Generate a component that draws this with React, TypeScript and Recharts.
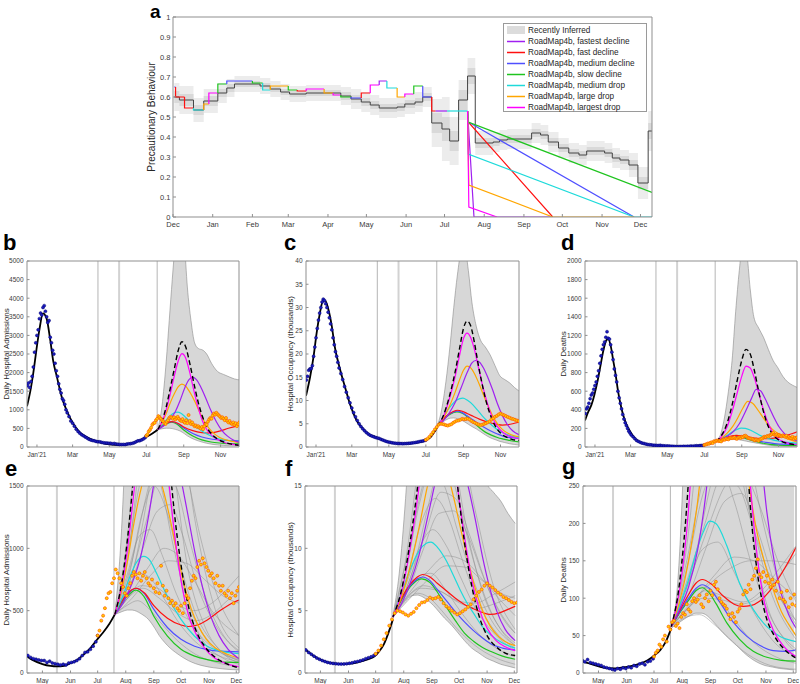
import React from 'react';
import { ComposedChart, Line, Area, Scatter, XAxis, YAxis, ReferenceLine } from 'recharts';

const FONT = "'Liberation Sans', Arial, Helvetica, sans-serif";
const AXIS_GRAY = '#8f8f8f';
const TICK_TEXT = '#3a3a3a';

// ---------------- shared scenario definitions ----------------
const scenarioNames = [
  'RoadMap4b, fastest decline',
  'RoadMap4b, fast decline',
  'RoadMap4b, medium decline',
  'RoadMap4b, slow decline',
  'RoadMap4b, medium drop',
  'RoadMap4b, large drop',
  'RoadMap4b, largest drop',
];
const scenarioColors = ['#A020F0', '#FF1010', '#4F4FFF', '#1FC41F', '#1EDADA', '#FFA600', '#FF00FF'];
const drawOrder = [3, 2, 1, 4, 5, 0, 6];

// ---------------- panel a ----------------
const aMonthDays = [0, 31, 62, 90, 121, 151, 182, 212, 243, 274, 304, 335, 365];
const aMonthLabels = ['Dec', 'Jan', 'Feb', 'Mar', 'Apr', 'May', 'Jun', 'Jul', 'Aug', 'Sep', 'Oct', 'Nov', 'Dec'];
const aYTicks = [0, 0.1, 0.2, 0.3, 0.4, 0.5, 0.6, 0.7, 0.8, 0.9, 1];
const aEndDay = 374;

const aInfDays = [1, 5, 16, 24, 35, 42, 48, 68, 76, 84, 91, 104, 131, 139, 147, 154, 161, 175, 181, 189, 195, 202, 210, 216, 223, 230, 236, 250, 255, 261, 280, 287, 293, 301, 309, 317, 323, 337, 343, 349, 356, 363, 371];
const aInfValues = [0.6, 0.585, 0.535, 0.58, 0.62, 0.645, 0.665, 0.655, 0.64, 0.625, 0.615, 0.62, 0.605, 0.59, 0.575, 0.56, 0.545, 0.55, 0.565, 0.575, 0.6, 0.47, 0.44, 0.38, 0.585, 0.705, 0.37, 0.375, 0.385, 0.39, 0.42, 0.41, 0.375, 0.345, 0.32, 0.31, 0.33, 0.32, 0.295, 0.285, 0.26, 0.17, 0.43];
const aInfOuter = [0.07, 0.07, 0.06, 0.06, 0.05, 0.045, 0.04, 0.04, 0.04, 0.04, 0.04, 0.04, 0.045, 0.05, 0.05, 0.05, 0.05, 0.05, 0.05, 0.05, 0.05, 0.12, 0.16, 0.12, 0.1, 0.09, 0.06, 0.05, 0.05, 0.05, 0.05, 0.05, 0.05, 0.05, 0.05, 0.05, 0.05, 0.05, 0.05, 0.05, 0.06, 0.08, 0.1];
const aInfInner = [0.03, 0.03, 0.025, 0.025, 0.02, 0.02, 0.015, 0.015, 0.015, 0.015, 0.015, 0.015, 0.02, 0.02, 0.02, 0.02, 0.02, 0.02, 0.02, 0.02, 0.02, 0.05, 0.06, 0.05, 0.05, 0.04, 0.025, 0.02, 0.02, 0.02, 0.02, 0.02, 0.02, 0.02, 0.02, 0.02, 0.02, 0.02, 0.02, 0.02, 0.025, 0.03, 0.04];

const aStepDays = [1, 2, 9, 16, 24, 28, 35, 42, 62, 70, 76, 90, 97, 104, 118, 125, 131, 139, 147, 154, 161, 167, 175, 181, 188, 195, 202, 205, 214];
const aStepValues = [0.65, 0.6, 0.545, 0.535, 0.565, 0.62, 0.665, 0.68, 0.67, 0.635, 0.655, 0.635, 0.63, 0.64, 0.62, 0.61, 0.6, 0.595, 0.62, 0.66, 0.68, 0.645, 0.6, 0.615, 0.655, 0.6, 0.53, 0.53, 0.53];
const aStepScenario = [2, 1, 1, 4, 5, 6, 3, 2, 3, 4, 5, 3, 1, 6, 5, 6, 3, 2, 1, 6, 0, 4, 5, 6, 3, 2, 1, 0, 4];
const aStepEnd = 230;

const aFastestDecline = [[230, 0.53], [230.5, 0.475], [235, 0], [296.5, 0]];
const aFastDecline = [[230, 0.53], [230.5, 0.475], [296.5, 0]];
const aMediumDecline = [[230, 0.53], [230.5, 0.475], [360, 0]];
const aSlowDecline = [[230, 0.53], [230.5, 0.475], [374, 0.123]];
const aMediumDrop = [[230, 0.53], [230.5, 0.315], [360, 0], [374, 0]];
const aLargeDrop = [[230, 0.53], [231, 0.16], [296.5, 0], [360, 0]];
const aLargestDrop = [[230, 0.53], [231, 0.05], [253, 0]];
const aScenarioPaths = [aFastestDecline, aFastDecline, aMediumDecline, aSlowDecline, aMediumDrop, aLargeDrop, aLargestDrop];

// ---------------- panels b-g : axes ----------------
const topTickDays = [31, 90, 151, 212, 274, 335];
const topTickLabels = ["Jan'21", 'Mar', 'May', 'Jul', 'Sep', 'Nov'];
const botTickDays = [151, 182, 212, 243, 274, 304, 335, 365];
const botTickLabels = ['May', 'Jun', 'Jul', 'Aug', 'Sep', 'Oct', 'Nov', 'Dec'];
const stepChangeDays = [132, 167, 230];

// ---------------- admissions ----------------
const admObsBlue = [[15,1650],[17,1720],[19,1600],[21,1760],[23,1900],[25,2150],[27,2550],[29,2800],[31,3000],[33,3150],[35,3450],[37,3600],[39,3550],[41,3750],[43,3800],[45,3650],[47,3500],[49,3350],[51,3400],[53,2950],[55,2800],[57,2600],[59,2500],[61,2250],[63,2050],[65,1900],[67,1700],[69,1550],[71,1450],[73,1300],[75,1250],[77,1150],[79,1000],[81,920],[84,820],[87,700],[90,640],[93,560],[96,480],[99,420],[102,370],[105,330],[108,300],[111,270],[114,240],[117,210],[120,190],[123,175],[126,165],[129,150],[132,140],[135,140],[138,125],[141,115],[144,110],[147,105],[150,100],[153,100],[156,85],[159,95],[162,80],[165,75],[168,70],[171,65],[174,70],[177,65],[180,80],[183,85],[186,90],[189,100],[192,115],[195,140],[198,165],[201,170],[204,190],[207,215],[210,250],[212,300]];
const admObsOrange = [[212,300],[214,340],[216,420],[218,460],[220,520],[222,600],[224,640],[226,650],[228,720],[230,760],[232,830],[234,800],[236,760],[238,720],[240,690],[242,640],[244,620],[246,680],[248,720],[250,780],[252,810],[254,790],[256,760],[258,800],[260,740],[262,780],[264,810],[266,760],[268,720],[270,700],[272,750],[274,680],[276,650],[278,720],[280,640],[282,860],[284,700],[286,620],[288,660],[290,600],[292,560],[294,580],[296,540],[298,560],[300,520],[302,500],[304,540],[306,480],[308,560],[310,620],[312,600],[314,680],[316,740],[318,780],[320,760],[322,850],[324,900],[326,870],[328,920],[330,880],[332,850],[334,820],[336,780],[338,800],[340,760],[342,720],[344,780],[346,700],[348,660],[350,700],[352,640],[354,620],[356,660],[358,600],[360,640],[362,560],[364,620],[366,660],[368,690]];
const admFit = [[14.5,1094],[20,1500],[25,2000],[30,2600],[35,3150],[41,3590],[47,3450],[53,2870],[58,2300],[64,1884],[72,1345],[80,987],[91,628],[100,430],[108,314],[120,210],[130,155],[140,105],[151,72],[160,57],[167,53],[175,58],[182,78],[190,108],[196,145],[204,200],[211,265],[218,325],[225,395],[231,470]];
const admBand = [[231,470,480],[238,490,1100],[245,505,2300],[250,505,3400],[255,495,4500],[260,475,5500],[268,430,6500],[275,360,5500],[280,300,4300],[286,245,3400],[292,200,2800],[298,165,2650],[306,125,2600],[312,100,2500],[320,75,2250],[330,55,2030],[340,42,1950],[350,33,1880],[358,28,1830],[368,25,1800]];
const admFastestDecline = [[231,470],[240,560],[250,720],[260,950],[268,1250],[276,1600],[283,1820],[289,1870],[295,1810],[302,1620],[310,1330],[319,980],[328,680],[337,450],[346,300],[356,190],[368,115]];
const admFastDecline = [[231,470],[244,630],[254,680],[264,640],[274,540],[289,440],[304,385],[312,373],[322,385],[333,425],[348,505],[363,570],[368,585]];
const admMediumDecline = [[231,470],[244,620],[254,680],[263,640],[274,510],[289,365],[304,270],[319,215],[333,188],[348,175],[368,170]];
const admSlowDecline = [[231,470],[244,610],[254,665],[263,615],[274,455],[289,295],[304,190],[319,135],[333,107],[348,90],[368,85]];
const admMediumDrop = [[231,470],[240,620],[248,780],[255,890],[263,935],[270,900],[277,800],[289,615],[304,430],[319,295],[333,215],[348,175],[368,155]];
const admLargeDrop = [[231,470],[238,650],[245,900],[252,1200],[259,1450],[265,1620],[271,1690],[278,1620],[285,1450],[293,1200],[300,950],[307,720],[315,520],[323,380],[332,270],[342,200],[355,150],[368,120]];
const admLargestDrop = [[231,470],[238,680],[245,1000],[252,1450],[259,1950],[265,2320],[271,2510],[277,2400],[284,2000],[291,1500],[298,1050],[305,700],[312,470],[320,320],[330,200],[341,120],[354,75],[368,50]];
const admNoChange = [[231,470],[238,700],[245,1080],[252,1600],[259,2150],[265,2600],[271,2830],[277,2700],[284,2250],[291,1700],[298,1200],[305,820],[312,540],[320,350],[330,215],[341,130],[354,75],[368,42]];
const admEnsemble = [
  [[231,470],[245,545],[256,580],[268,520],[282,400],[300,260],[320,150],[345,80],[368,50]],
  [[231,470],[245,680],[258,800],[270,760],[285,600],[300,420],[320,250],[345,140],[368,90]],
  [[231,470],[245,800],[258,1100],[270,1150],[283,950],[298,650],[315,400],[340,200],[368,110]],
  [[231,470],[245,950],[258,1500],[270,1750],[282,1500],[296,1000],[312,560],[335,250],[368,100]],
  [[231,470],[245,1100],[256,2000],[268,2700],[280,2300],[292,1400],[305,700],[325,300],[350,120],[368,70]],
  [[231,470],[248,700],[262,1000],[278,1300],[292,1350],[306,1100],[322,700],[345,350],[368,180]],
  [[231,470],[250,650],[268,850],[285,1000],[300,950],[318,750],[338,500],[368,300]],
  [[231,470],[248,620],[262,680],[280,600],[300,480],[320,420],[340,480],[355,580],[368,650]],
  [[231,470],[245,900],[255,1500],[265,2200],[275,2600],[285,2300],[297,1600],[310,900],[330,380],[350,160],[368,80]],
  [[231,470],[250,900],[265,1400],[280,1800],[295,1900],[310,1600],[325,1100],[345,600],[368,300]],
  [[231,470],[246,760],[260,1250],[274,1500],[288,1300],[302,900],[320,480],[345,200],[368,100]],
  [[231,470],[250,600],[270,780],[290,900],[310,880],[330,750],[350,620],[368,560]],
  [[231,470],[248,750],[265,1200],[282,1600],[298,1500],[314,1050],[334,550],[355,260],[368,170]],
  [[231,470],[245,600],[260,700],[278,680],[298,560],[318,500],[338,560],[358,700],[368,780]],
  [[231,470],[252,850],[272,1600],[290,2200],[305,1900],[320,1200],[340,550],[368,200]],
];

// ---------------- occupancy (thousands) ----------------
const occObsBlue = [[15,14.4],[17,15.2],[19,16.5],[21,16.8],[23,16.9],[25,17.5],[27,19.5],[29,21.5],[31,23.5],[33,25.5],[35,27.3],[37,28.8],[39,30],[41,31.2],[43,31.8],[45,31.5],[47,30.8],[49,30],[51,29],[53,27.8],[55,26.5],[57,25.2],[59,23.5],[61,22],[63,20.5],[65,19.5],[67,18.2],[69,17],[72,15.8],[75,14.5],[78,13],[81,11.8],[84,10.6],[87,9.5],[90,8.4],[93,7.4],[96,6.5],[99,5.7],[102,5],[105,4.4],[108,3.9],[111,3.5],[114,3.1],[117,2.8],[120,2.55],[123,2.35],[126,2.2],[129,2.05],[132,1.95],[135,1.85],[138,1.65],[141,1.5],[144,1.35],[147,1.2],[150,1.1],[153,1.0],[156,0.92],[159,0.85],[162,0.8],[165,0.77],[168,0.75],[171,0.73],[174,0.72],[177,0.73],[180,0.75],[183,0.78],[186,0.82],[189,0.88],[192,0.92],[195,0.98],[198,1.05],[201,1.15],[204,1.22],[207,1.3],[210,1.4],[212,1.5]];
const occObsOrange = [[212,1.55],[215,1.8],[218,2.2],[221,2.7],[224,3.2],[227,3.8],[230,4.3],[233,4.8],[236,5.0],[239,4.95],[242,4.85],[245,4.7],[248,4.6],[251,4.75],[254,4.9],[257,5.2],[260,5.45],[263,5.65],[266,5.7],[269,5.85],[272,6.05],[275,5.95],[278,6.0],[281,6.1],[284,5.9],[287,5.6],[290,5.35],[293,5.2],[296,5.0],[299,4.85],[302,4.7],[305,4.8],[308,4.95],[311,5.1],[314,5.3],[317,5.5],[320,5.9],[323,6.2],[326,6.5],[329,6.7],[332,7.0],[335,7.2],[338,7.0],[341,6.85],[344,6.65],[347,6.45],[350,6.3],[353,6.1],[356,6.0],[359,5.85],[362,5.7],[365,5.6],[368,5.65]];
const occFit = [[14.5,11],[21,14.9],[27,19.5],[32,24.5],[37,28.5],[42,31.3],[46,31.5],[51,29.8],[57,26],[62,21.5],[70,17],[79,12.8],[87,9.2],[98,5.7],[110,3.7],[120,2.6],[128,2.2],[135,1.85],[143,1.4],[151,1.07],[160,0.85],[168,0.75],[176,0.72],[183,0.75],[190,0.82],[196,0.93],[204,1.1],[211,1.35],[216,1.75],[221,2.3],[226,3.2],[231,4.3]];
const occBand = [[231,4.4,4.6],[238,5.2,8],[245,5.8,14],[252,6.2,22],[258,6.25,30],[264,6.1,37],[270,5.8,42],[276,5.4,43],[282,4.9,38],[288,4.4,31],[295,3.9,26],[302,3.3,23],[310,2.6,21.5],[318,2.0,19.8],[326,1.6,17.5],[334,1.2,15.3],[342,0.95,14.5],[350,0.7,13.8],[358,0.55,12.8],[366,0.4,12.0]];
const occFastestDecline = [[231,4.5],[240,5.5],[250,7.2],[260,9.5],[270,12.7],[280,16],[288,18.1],[294,18.6],[300,18.3],[307,17],[314,15],[322,12.3],[330,9.3],[338,6.8],[346,4.9],[355,3.5],[366,2.6]];
const occFastDecline = [[231,4.5],[240,5.9],[250,7.1],[258,7.7],[264,7.9],[272,7.7],[280,7.2],[290,6.6],[300,6],[310,5.5],[320,5.15],[330,4.85],[338,4.7],[348,4.8],[358,5.1],[366,5.35]];
const occMediumDecline = [[231,4.5],[240,5.9],[250,7],[258,7.55],[264,7.7],[272,7.4],[280,6.7],[290,5.8],[300,4.9],[310,4.1],[320,3.4],[330,2.8],[340,2.3],[352,2.0],[366,1.85]];
const occSlowDecline = [[231,4.5],[240,5.8],[250,6.9],[258,7.45],[263,7.55],[272,7.25],[280,6.5],[290,5.3],[300,4.2],[310,3.2],[320,2.55],[330,2.05],[340,1.7],[352,1.35],[366,1.1]];
const occMediumDrop = [[231,4.5],[240,6.3],[250,8.3],[260,9.8],[268,10.4],[273,10.5],[280,10.1],[290,9.0],[298,7.8],[305,6.7],[313,5.6],[320,4.8],[330,3.7],[340,3],[352,2.4],[366,2.0]];
const occLargeDrop = [[231,4.5],[240,6],[250,8.5],[260,11.7],[268,14.6],[274,16.5],[280,17.4],[286,17],[292,15.8],[299,13.8],[306,11.5],[313,9.3],[321,7],[329,5.2],[338,3.8],[348,2.9],[358,2.4],[366,2.2]];
const occLargestDrop = [[231,4.5],[240,6.3],[250,10],[260,15],[268,20],[274,23.3],[280,24.5],[286,23.5],[292,21],[298,17.5],[304,14],[311,10.5],[318,7.5],[326,5.2],[335,3.6],[345,2.6],[355,2.1],[366,1.8]];
const occNoChange = [[231,4.5],[240,6.5],[250,10.5],[260,16],[268,21.5],[274,25.5],[280,27.1],[286,26],[292,22.5],[298,18],[304,14],[310,10.5],[318,7],[326,4.6],[335,3.0],[345,2.1],[355,1.6],[366,1.4]];
const occEnsemble = [
  [[231,4.5],[245,5.7],[258,6.4],[270,6.1],[285,5.0],[300,3.7],[320,2.3],[345,1.2],[366,0.7]],
  [[231,4.5],[245,6.3],[260,7.8],[273,8.0],[288,6.8],[305,5.0],[325,3.2],[345,2.0],[366,1.3]],
  [[231,4.5],[245,7.0],[260,10],[275,11.5],[290,10.2],[305,7.8],[322,5.2],[345,3.0],[366,1.8]],
  [[231,4.5],[245,8],[260,13.5],[274,16.5],[288,15],[302,11.5],[318,7.8],[340,4.2],[366,2.2]],
  [[231,4.5],[245,9],[258,16],[270,22],[282,23.5],[295,19],[310,12.5],[330,6.5],[350,3.5],[366,2.2]],
  [[231,4.5],[250,7],[265,10],[282,12.8],[298,13],[314,11],[332,7.5],[350,4.8],[366,3.2]],
  [[231,4.5],[250,6.5],[270,8.2],[290,9.4],[310,9.0],[330,7.5],[350,5.8],[366,4.6]],
  [[231,4.5],[248,6.2],[265,7.0],[285,6.5],[305,5.6],[325,5.2],[345,5.6],[366,6.2]],
  [[231,4.5],[247,9.5],[262,14.5],[278,18.5],[292,17],[306,13],[322,8.5],[342,4.5],[366,2.4]],
  [[231,4.5],[246,7.5],[262,12],[278,14],[292,12.5],[308,9],[326,5.5],[348,3],[366,2]],
  [[231,4.5],[250,6],[270,7.5],[290,8.6],[310,8.5],[330,7.4],[350,6.4],[366,6]],
  [[231,4.5],[248,7.2],[266,11],[284,14.5],[300,14],[316,11],[336,6.8],[356,4],[366,3.2]],
  [[231,4.5],[245,5.9],[262,6.8],[282,6.6],[302,5.8],[322,5.6],[342,6.3],[366,7.3]],
  [[231,4.5],[252,8],[272,14],[290,19],[306,18],[322,13],[342,7],[366,3.5]],
];

// ---------------- deaths ----------------
const detObsBlue = [[15,360],[17,410],[19,430],[21,470],[23,520],[25,560],[27,580],[29,620],[31,660],[33,700],[35,760],[37,820],[39,900],[41,980],[43,1050],[45,1100],[47,1130],[49,1180],[51,1240],[53,1170],[55,1160],[57,1100],[59,1020],[61,940],[63,840],[65,770],[67,700],[69,600],[71,530],[73,470],[75,410],[77,350],[79,300],[81,260],[83,230],[85,200],[87,170],[89,150],[91,130],[94,110],[97,90],[100,70],[103,60],[106,50],[109,42],[112,38],[115,33],[118,28],[121,25],[124,23],[127,20],[130,18],[133,17],[136,15],[139,18],[142,14],[145,13],[148,12],[151,11],[154,10],[157,8],[160,7],[163,6],[166,5],[169,4],[172,6],[175,5],[178,7],[181,6],[184,8],[187,7],[190,10],[193,9],[196,12],[199,13],[202,11],[205,15],[208,16],[211,19]];
const detObsOrange = [[212,22],[214,27],[216,30],[218,38],[220,35],[222,45],[224,50],[226,42],[228,62],[230,58],[232,68],[234,70],[236,63],[238,66],[240,60],[242,75],[244,80],[246,78],[248,92],[250,85],[252,82],[254,96],[256,100],[258,95],[260,98],[262,104],[264,92],[266,88],[268,100],[270,105],[272,96],[274,110],[276,104],[278,118],[280,122],[282,112],[284,100],[286,95],[288,92],[290,90],[292,86],[294,78],[296,72],[298,80],[300,75],[302,68],[304,82],[306,86],[308,92],[310,105],[312,110],[314,108],[316,118],[318,112],[320,125],[322,130],[324,140],[326,152],[328,132],[330,128],[332,135],[334,122],[336,130],[338,120],[340,115],[342,125],[344,118],[346,110],[348,122],[350,100],[352,108],[354,98],[356,95],[358,110],[360,88],[362,100],[364,92],[366,105],[368,90]];
const detFit = [[14.5,286],[20,380],[25,450],[30,560],[35,700],[40,870],[45,1040],[50,1150],[53,1160],[57,1090],[61,940],[65,790],[69,610],[73,470],[77,360],[82,260],[88,180],[95,110],[104,58],[115,32],[126,20],[140,13],[154,8],[168,6],[181,8],[195,12],[205,17],[213,24],[219,31],[225,42],[231,60]];
const detBand = [[231,60,65],[238,66,120],[245,72,300],[252,77,600],[258,80,930],[264,80,1460],[270,77,1900],[276,70,2200],[282,62,2100],[288,54,1700],[294,47,1400],[302,38,1280],[310,28,1180],[318,20,1050],[326,14,930],[334,10,850],[342,8,760],[350,6,700],[358,5,665],[366,4,640]];
const detFastestDecline = [[231,62],[240,85],[250,115],[260,165],[270,250],[280,380],[290,520],[298,620],[305,605],[312,530],[320,420],[328,310],[336,215],[344,150],[352,105],[360,78],[368,60]];
const detFastDecline = [[231,62],[240,83],[250,105],[258,120],[265,125],[275,119],[288,103],[300,92],[310,89],[318,90],[328,96],[338,108],[348,125],[358,145],[368,168]];
const detMediumDecline = [[231,62],[240,81],[250,100],[258,113],[265,118],[273,113],[284,95],[299,68],[314,49],[328,37],[343,30],[356,29],[368,31]];
const detSlowDecline = [[231,62],[240,80],[250,97],[258,110],[265,114],[272,108],[280,93],[292,67],[306,45],[321,29],[336,21],[352,17],[368,16]];
const detMediumDrop = [[231,62],[240,90],[250,125],[258,160],[266,188],[273,203],[280,200],[292,170],[306,120],[321,85],[336,62],[350,49],[368,42]];
const detLargeDrop = [[231,62],[240,95],[250,150],[260,230],[268,320],[276,420],[284,490],[292,470],[300,405],[308,330],[316,255],[324,195],[333,150],[342,115],[352,82],[360,65],[368,50]];
const detLargestDrop = [[231,62],[240,110],[250,220],[258,380],[266,570],[274,760],[281,870],[288,850],[295,740],[302,580],[310,400],[318,250],[326,150],[334,90],[344,55],[355,35],[368,22]];
const detNoChange = [[231,62],[240,120],[250,260],[258,450],[266,700],[274,930],[281,1050],[288,1000],[295,820],[302,600],[310,380],[318,220],[326,130],[334,80],[344,50],[355,32],[368,20]];
const detEnsemble = [
  [[231,62],[248,75],[262,78],[278,65],[295,45],[315,25],[340,10],[368,5]],
  [[231,62],[248,95],[264,115],[280,105],[298,75],[318,45],[345,22],[368,13]],
  [[231,62],[248,115],[265,165],[282,175],[300,135],[320,85],[345,40],[368,22]],
  [[231,62],[248,140],[266,240],[283,280],[300,230],[318,150],[340,75],[368,32]],
  [[231,62],[248,170],[264,350],[280,480],[296,420],[312,260],[332,110],[355,45],[368,28]],
  [[231,62],[252,110],[270,170],[290,230],[308,240],[326,190],[346,115],[368,65]],
  [[231,62],[255,95],[278,130],[300,155],[322,150],[345,125],[368,100]],
  [[231,62],[250,90],[268,110],[290,102],[310,95],[330,110],[350,140],[368,170]],
  [[231,62],[250,130],[268,200],[286,260],[304,250],[322,190],[342,120],[368,70]],
  [[231,62],[248,150],[266,260],[284,330],[300,300],[318,210],[340,110],[368,45]],
  [[231,62],[252,90],[274,120],[296,140],[318,150],[340,150],[368,145]],
  [[231,62],[250,120],[270,190],[290,250],[308,270],[326,230],[348,150],[368,95]],
  [[231,62],[248,85],[266,100],[286,98],[306,92],[326,100],[346,125],[368,160]],
  [[231,62],[254,140],[276,260],[296,340],[314,300],[332,200],[352,110],[368,70]],
];

// ---------------- helpers ----------------
const pts = (arr) => arr.map(([d, v]) => ({ d, v }));
const tickStyle = (fs) => ({ fontSize: fs, fill: TICK_TEXT, fontFamily: FONT });

const BlueDot = (p) => (p.cx == null ? null : <circle cx={p.cx} cy={p.cy} r={1.5} fill="#1c1cc0" stroke="#00006e" strokeWidth={0.5} />);
const OrangeDot = (p) => (p.cx == null ? null : <circle cx={p.cx} cy={p.cy} r={1.5} fill="#FFD000" stroke="#FF5a00" strokeWidth={0.7} />);

function SeriesPanel({ rect, xDomain, xTicks, xLabels, yDomain, yTicks, band, fit, noChange, scenarios, blue, orange, ensemble }) {
  const YW = 26, MT = 4, MR = 4, XH = 16;
  const W = rect.w + YW + MR;
  const H = rect.h + MT + XH;
  const bandRows = band.map(([d, lo, hi]) => ({ d, r: [lo, hi] }));
  return (
    <div style={{ position: 'absolute', left: rect.x - YW, top: rect.y - MT, width: W, height: H }}>
      <ComposedChart width={W} height={H} data={bandRows} margin={{ top: MT, right: MR, bottom: 0, left: 0 }}>
        <XAxis type="number" dataKey="d" domain={xDomain} ticks={xTicks} interval={0} allowDataOverflow height={XH}
          tickFormatter={(t) => xLabels[xTicks.indexOf(t)]} tick={tickStyle(6.5)} stroke={AXIS_GRAY}
          tickSize={-2.5} tickMargin={7.5} />
        <YAxis type="number" domain={yDomain} ticks={yTicks} interval={0} allowDataOverflow width={YW}
          tick={tickStyle(6.5)} stroke={AXIS_GRAY} tickSize={-2.5} tickMargin={6} />
        <Area dataKey="r" type="monotone" fill="#d7d7d7" fillOpacity={1} stroke="#8a8a8a" strokeWidth={0.6} isAnimationActive={false} />
        {ensemble && ensemble.map((e, i) => (
          <Line key={'en' + i} data={pts(e)} dataKey="v" type="monotone" stroke="#8e8e8e" strokeWidth={0.5} dot={false} activeDot={false} isAnimationActive={false} />
        ))}
        <ReferenceLine x={stepChangeDays[0]} stroke="#b5b5b5" strokeWidth={1} />
        <ReferenceLine x={stepChangeDays[1]} stroke="#d2d2d2" strokeWidth={2} />
        <ReferenceLine x={stepChangeDays[2]} stroke="#b5b5b5" strokeWidth={1} />
        <Line data={pts(fit)} dataKey="v" type="monotone" stroke="#000" strokeWidth={1.8} dot={false} activeDot={false} isAnimationActive={false} />
        <Scatter data={pts(blue)} dataKey="v" shape={BlueDot} isAnimationActive={false} />
        {drawOrder.map((k) => (
          <Line key={'sc' + k} data={pts(scenarios[k])} dataKey="v" type="monotone" stroke={scenarioColors[k]} strokeWidth={1.2} dot={false} activeDot={false} isAnimationActive={false} />
        ))}
        <Line data={pts(noChange)} dataKey="v" type="monotone" stroke="#000" strokeWidth={1.4} strokeDasharray="5 3" dot={false} activeDot={false} isAnimationActive={false} />
        <Scatter data={pts(orange)} dataKey="v" shape={OrangeDot} isAnimationActive={false} />
        <ReferenceLine y={yDomain[1]} stroke={AXIS_GRAY} strokeWidth={1} />
        <ReferenceLine x={xDomain[1]} stroke={AXIS_GRAY} strokeWidth={1} />
      </ComposedChart>
    </div>
  );
}

function PanelA() {
  const rect = { x: 173, y: 17, w: 479, h: 200 };
  const YW = 24, MT = 4, MR = 4, XH = 16;
  const W = rect.w + YW + MR;
  const H = rect.h + MT + XH;
  const rows = aInfDays.map((d, i) => ({
    d,
    v: aInfValues[i],
    outer: [aInfValues[i] - aInfOuter[i], aInfValues[i] + aInfOuter[i]],
    inner: [aInfValues[i] - aInfInner[i], aInfValues[i] + aInfInner[i]],
  }));
  const last = rows[rows.length - 1];
  rows.push({ ...last, d: aEndDay });
  const segs = aStepDays.map((d, i) => {
    const end = i + 1 < aStepDays.length ? aStepDays[i + 1] : aStepEnd;
    const prev = i > 0 ? aStepValues[i - 1] : aStepValues[i];
    return { color: scenarioColors[aStepScenario[i]], data: [{ d, v: prev }, { d, v: aStepValues[i] }, { d: end, v: aStepValues[i] }] };
  });
  return (
    <div style={{ position: 'absolute', left: rect.x - YW, top: rect.y - MT, width: W, height: H }}>
      <ComposedChart width={W} height={H} data={rows} margin={{ top: MT, right: MR, bottom: 0, left: 0 }}>
        <XAxis type="number" dataKey="d" domain={[0, aEndDay]} ticks={aMonthDays} interval={0} allowDataOverflow height={XH}
          tickFormatter={(t) => aMonthLabels[aMonthDays.indexOf(t)]} tick={tickStyle(7.5)} stroke={AXIS_GRAY}
          tickSize={-3} tickMargin={8} />
        <YAxis type="number" domain={[0, 1]} ticks={aYTicks} interval={0} allowDataOverflow width={YW}
          tick={tickStyle(7.5)} stroke={AXIS_GRAY} tickSize={-3} tickMargin={5.5} />
        <Area dataKey="outer" type="stepAfter" fill="#ececec" fillOpacity={1} stroke="none" isAnimationActive={false} />
        <Area dataKey="inner" type="stepAfter" fill="#d9d9d9" fillOpacity={1} stroke="none" isAnimationActive={false} />
        <Line dataKey="v" type="stepAfter" stroke="#444" strokeWidth={1} dot={false} activeDot={false} isAnimationActive={false} />
        {segs.map((s, i) => (
          <Line key={'seg' + i} data={s.data} dataKey="v" type="linear" stroke={s.color} strokeWidth={1.2} dot={false} activeDot={false} isAnimationActive={false} />
        ))}
        {aScenarioPaths.map((p, k) => (
          <Line key={'path' + k} data={pts(p)} dataKey="v" type="linear" stroke={scenarioColors[k]} strokeWidth={1.2} dot={false} activeDot={false} isAnimationActive={false} />
        ))}
        <ReferenceLine y={1} stroke={AXIS_GRAY} strokeWidth={1} />
        <ReferenceLine x={aEndDay} stroke={AXIS_GRAY} strokeWidth={1} />
      </ComposedChart>
    </div>
  );
}

function LegendA() {
  const rowH = 11;
  return (
    <div style={{ position: 'absolute', left: 503, top: 23, width: 142, height: 87, background: '#fff', border: '1px solid #9a9a9a', fontFamily: FONT, fontSize: 8.2, color: '#262626' }}>
      <svg width={24} height={88} style={{ position: 'absolute', left: 0, top: 0 }}>
        <rect x={3} y={2} width={18} height={8} fill="#dcdcdc" />
        {scenarioNames.map((n, i) => (
          <line key={n} x1={3} x2={21} y1={1 + rowH * (i + 1) + rowH / 2} y2={1 + rowH * (i + 1) + rowH / 2} stroke={scenarioColors[i]} strokeWidth={1.5} />
        ))}
      </svg>
      <div style={{ position: 'absolute', left: 24, top: 1 }}>
        <div style={{ height: rowH, lineHeight: rowH + 'px', whiteSpace: 'nowrap' }}>Recently Inferred</div>
        {scenarioNames.map((n) => (
          <div key={n} style={{ height: rowH, lineHeight: rowH + 'px', whiteSpace: 'nowrap' }}>{n}</div>
        ))}
      </div>
    </div>
  );
}

const yTitles = [
  { text: 'Precautionary Behaviour', x: 151, y: 117, fs: 10 },
  { text: 'Daily Hospital Admissions', x: 6, y: 354, fs: 8 },
  { text: 'Hospital Occupancy (thousands)', x: 290, y: 354, fs: 8 },
  { text: 'Daily Deaths', x: 563, y: 354, fs: 8 },
  { text: 'Daily Hospital Admissions', x: 6, y: 580, fs: 8 },
  { text: 'Hospital Occupancy (thousands)', x: 290, y: 580, fs: 8 },
  { text: 'Daily Deaths', x: 563, y: 580, fs: 8 },
];
const panelLetters = [
  { t: 'a', x: 150, y: 17.5, fs: 19 },
  { t: 'b', x: 3, y: 250, fs: 22 },
  { t: 'c', x: 284, y: 250, fs: 22 },
  { t: 'd', x: 561, y: 250, fs: 22 },
  { t: 'e', x: 5, y: 476, fs: 22 },
  { t: 'f', x: 285, y: 476, fs: 22 },
  { t: 'g', x: 562, y: 474, fs: 22 },
];

export default function App() {
  return (
    <div style={{ position: 'absolute', left: 0, top: 0, width: 800, height: 684, background: '#fff', overflow: 'hidden', fontFamily: FONT }}>
      <PanelA />
      <LegendA />
      <SeriesPanel rect={{ x: 27, y: 261, w: 212, h: 186 }} xDomain={[14.5, 365.5]} xTicks={topTickDays} xLabels={topTickLabels}
        yDomain={[0, 5000]} yTicks={[0, 500, 1000, 1500, 2000, 2500, 3000, 3500, 4000, 4500, 5000]}
        band={admBand} fit={admFit} noChange={admNoChange}
        scenarios={[admFastestDecline, admFastDecline, admMediumDecline, admSlowDecline, admMediumDrop, admLargeDrop, admLargestDrop]}
        blue={admObsBlue} orange={admObsOrange} ensemble={null} />
      <SeriesPanel rect={{ x: 306, y: 261, w: 213, h: 186 }} xDomain={[14.5, 365.5]} xTicks={topTickDays} xLabels={topTickLabels}
        yDomain={[0, 40]} yTicks={[0, 5, 10, 15, 20, 25, 30, 35, 40]}
        band={occBand} fit={occFit} noChange={occNoChange}
        scenarios={[occFastestDecline, occFastDecline, occMediumDecline, occSlowDecline, occMediumDrop, occLargeDrop, occLargestDrop]}
        blue={occObsBlue} orange={occObsOrange} ensemble={null} />
      <SeriesPanel rect={{ x: 585, y: 261, w: 212, h: 186 }} xDomain={[14.5, 365.5]} xTicks={topTickDays} xLabels={topTickLabels}
        yDomain={[0, 2000]} yTicks={[0, 200, 400, 600, 800, 1000, 1200, 1400, 1600, 1800, 2000]}
        band={detBand} fit={detFit} noChange={detNoChange}
        scenarios={[detFastestDecline, detFastDecline, detMediumDecline, detSlowDecline, detMediumDrop, detLargeDrop, detLargestDrop]}
        blue={detObsBlue} orange={detObsOrange} ensemble={null} />
      <SeriesPanel rect={{ x: 27, y: 486, w: 212, h: 187 }} xDomain={[134, 368]} xTicks={botTickDays} xLabels={botTickLabels}
        yDomain={[0, 1500]} yTicks={[0, 500, 1000, 1500]}
        band={admBand} fit={admFit} noChange={admNoChange}
        scenarios={[admFastestDecline, admFastDecline, admMediumDecline, admSlowDecline, admMediumDrop, admLargeDrop, admLargestDrop]}
        blue={admObsBlue} orange={admObsOrange} ensemble={admEnsemble} />
      <SeriesPanel rect={{ x: 305, y: 486, w: 212, h: 187 }} xDomain={[134, 368]} xTicks={botTickDays} xLabels={botTickLabels}
        yDomain={[0, 15]} yTicks={[0, 5, 10, 15]}
        band={occBand} fit={occFit} noChange={occNoChange}
        scenarios={[occFastestDecline, occFastDecline, occMediumDecline, occSlowDecline, occMediumDrop, occLargeDrop, occLargestDrop]}
        blue={occObsBlue} orange={occObsOrange} ensemble={occEnsemble} />
      <SeriesPanel rect={{ x: 583, y: 486, w: 213, h: 187 }} xDomain={[134, 368]} xTicks={botTickDays} xLabels={botTickLabels}
        yDomain={[0, 250]} yTicks={[0, 50, 100, 150, 200, 250]}
        band={detBand} fit={detFit} noChange={detNoChange}
        scenarios={[detFastestDecline, detFastDecline, detMediumDecline, detSlowDecline, detMediumDrop, detLargeDrop, detLargestDrop]}
        blue={detObsBlue} orange={detObsOrange} ensemble={detEnsemble} />
      <svg width={800} height={684} style={{ position: 'absolute', left: 0, top: 0, pointerEvents: 'none' }}>
        {yTitles.map((t, i) => (
          <text key={'yt' + i} transform={`translate(${t.x},${t.y}) rotate(-90)`} textAnchor="middle" dominantBaseline="central"
            fontSize={t.fs} fontFamily={FONT} fill="#262626">{t.text}</text>
        ))}
        {panelLetters.map((l) => (
          <text key={l.t} x={l.x} y={l.y} fontSize={l.fs} fontWeight="bold" fontFamily={FONT} fill="#000">{l.t}</text>
        ))}
      </svg>
    </div>
  );
}
